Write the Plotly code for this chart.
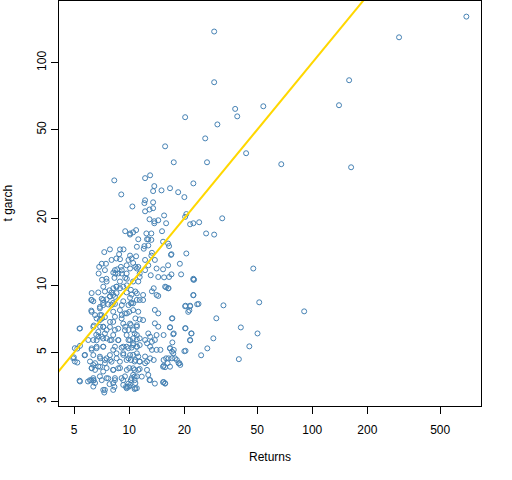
"""Scatter of t-GARCH estimates against returns, log-log with a y = x reference line."""

import plotly.graph_objects as go

# Points (returns, t garch)
returns = [
    29.1, 29.1, 37.9, 38.9, 30.3, 20.2, 26.0, 43.5, 26.6, 15.7, 17.5, 8.28, 9.04, 12.2, 13.0,
    13.7, 13.5, 15.0, 16.7, 18.5, 20.0, 22.4, 10.4, 12.1, 12.2, 13.5, 12.9, 13.5, 12.2, 15.5,
    20.5, 20.2, 12.9, 14.4, 13.7, 13.7, 15.9, 32.2, 24.1, 22.4, 21.5, 9.5, 10.1, 10.1, 10.9,
    12.4, 13.2, 15.1, 26.3, 29.1, 11.2, 12.7,
    695, 298, 159, 140, 54.0, 67.7, 163, 51.3, 90.3, 50.2,
    47.6, 45.3, 39.7, 40.7, 28.8, 26.7, 24.7, 29.9, 32.7, 23.5, 22.4, 22.6, 22.4, 20.5, 19.2,
    21.3, 20.2, 21.5, 20.2, 21.8, 21.5, 20.0, 17.2, 16.7, 17.4, 17.2, 16.7, 17.4, 17.8, 18.8,
    15.9, 15.3, 16.2, 15.3, 15.7, 17.0, 16.3, 15.9, 16.3, 15.5, 17.0, 16.3,
    10.5, 12.5, 13.2, 12.1, 12.0, 12.7, 13.3, 13.2, 15.3, 16.5, 16.9, 10.9, 12.2, 13.8, 12.7,
    14.1, 18.9, 15.3, 14.4, 16.5, 12.2, 13.1, 11.4, 10.3, 10.5, 11.0, 10.1,
    7.3, 7.84, 8.9, 9.3, 8.8, 8.0, 7.07, 6.85, 7.46, 7.36, 8.35, 8.6, 9.0, 8.9, 9.9, 9.1,
    7.5, 8.4, 9.7,
    8.5, 6.8, 7.1, 8.18, 8.3, 8.7, 9.1, 9.67, 10.1, 10.8, 11.0, 11.2, 11.4, 9.67, 9.5, 8.89,
    8.5, 8.18, 7.8,
    6.2, 6.2, 6.4, 5.38, 4.98, 5.2, 5.38, 5.2, 5.7, 5.38, 5.95, 6.2, 6.4, 7.3, 6.91, 6.6,
    7.1, 6.91, 7.2, 10.8, 9.6, 9.8, 8.3, 7.8, 12.9,
    7.21, 7.52, 8.53, 8.9, 9.27, 9.7, 7.07, 7.52, 6.23, 6.23, 7.85, 8.17, 7.21, 8.0, 8.35,
    9.1, 9.9, 6.93, 7.36, 7.85, 8.17, 9.1, 9.7, 5.35, 6.93, 7.21, 7.52, 8.35, 9.5, 9.9,
    5.97, 6.36, 6.78, 7.07, 7.52, 8.0, 8.72, 9.9, 5.04, 6.23, 6.63, 7.21, 8.17, 9.27, 9.9,
    4.94, 5.04, 5.73, 6.1, 6.36, 6.93, 7.36, 7.85, 8.53, 9.27, 9.9, 6.23, 6.5, 6.93, 7.52,
    8.17, 8.9, 9.7, 5.35, 6.1, 6.36, 7.07, 7.68, 8.35, 9.27, 9.9, 7.21, 8.17, 6.36,
    10.5, 11.2, 15.7, 16.4, 22.4, 10.2, 11.0, 11.9, 13.3, 14.1, 14.4, 13.6, 22.4, 11.4, 11.9,
    10.2, 10.5, 20.3, 21.5, 23.9, 21.0, 10.0, 13.8, 14.4, 17.1, 11.4, 11.9, 10.2, 11.0, 13.8,
    14.4, 16.7, 20.3, 21.9, 21.5, 10.7, 12.7, 13.0, 14.1, 15.4, 17.5, 10.5, 11.4, 12.2, 13.3,
    13.8, 10.5, 11.0, 11.4, 12.5, 13.0, 13.3, 14.1, 14.8, 16.7, 17.1, 17.5, 20.3, 10.5, 11.2,
    12.2, 13.0, 13.6, 15.4, 16.4, 17.1, 18.2, 10.2, 10.7, 11.4, 12.2, 12.5, 15.4, 15.7, 16.7,
    18.6, 19.0, 10.0, 10.7, 11.4, 12.5, 10.5, 10.7, 11.7, 12.7, 13.0, 10.2, 10.7, 13.8, 15.4,
    15.7, 10.0, 10.7,
    6.23, 6.77, 7.36, 8.0, 8.52, 7.84, 8.35, 9.67, 10.3, 10.8, 10.1, 11.0, 6.36, 7.2, 7.68,
    8.17, 9.27, 10.3, 6.91, 8.17, 8.89, 9.47, 10.5, 11.2, 6.5, 7.06, 6.63, 8.35, 9.08, 10.8,
    9.27, 10.1, 11.0, 6.36, 7.2, 7.84, 8.7, 9.47, 10.5, 6.77, 7.36, 8.17, 9.67, 11.0, 6.63,
    7.2, 7.84, 8.7, 10.1, 11.0, 10.5,
    6.23, 6.63, 7.2, 8.35, 9.08, 9.67, 10.3, 11.0, 6.36, 6.91, 7.52, 7.84, 8.52, 9.27, 10.1,
    11.0, 6.5, 7.36, 8.0, 8.89, 9.67, 10.8, 11.4, 6.23, 6.77, 7.2, 8.17, 8.7, 10.5, 11.2,
    6.36, 6.91, 7.52, 8.35, 9.08, 9.47, 10.3, 11.0, 6.5, 8.17, 9.27, 10.1, 10.8, 7.36, 9.67,
    11.0,
]
tgarch = [
    138, 81.7, 62.0, 57.4, 52.8, 56.9, 45.7, 39.2, 35.7, 42.1, 35.7, 29.6, 25.6, 30.3, 31.2,
    27.9, 26.5, 26.7, 27.3, 26.2, 24.9, 28.7, 22.6, 23.4, 24.1, 23.6, 21.9, 22.2, 21.5, 20.6,
    20.9, 20.3, 19.8, 19.6, 19.4, 19.0, 19.0, 20.0, 19.2, 19.0, 18.8, 17.5, 17.1, 16.9, 17.7,
    17.1, 17.1, 17.5, 17.1, 16.9, 16.1, 16.1,
    161, 130, 83.4, 64.4, 63.7, 35.0, 33.9, 8.39, 7.64, 6.08,
    11.9, 5.32, 4.66, 6.47, 5.78, 5.21, 4.85, 7.11, 8.13, 8.22, 9.02, 10.6, 10.7, 13.9, 11.2,
    7.72, 8.05, 8.05, 6.41, 6.08, 5.66, 5.06, 7.11, 6.47, 6.03, 5.54, 5.21, 4.95, 4.70, 4.47,
    4.70, 4.31, 4.47, 3.67, 3.63, 13.8, 12.3, 9.8, 9.7, 10.86, 11.2, 15.4,
    17.3, 16.1, 16.0, 15.0, 14.6, 15.1, 14.0, 13.6, 15.7, 15.0, 13.7, 13.5, 13.0, 13.0, 12.3,
    11.9, 12.5, 11.8, 10.9, 10.9, 11.7, 11.1, 10.9, 13.2, 12.6, 11.9, 11.9,
    14.1, 14.5, 14.5, 14.5, 13.8, 13.0, 12.5, 12.1, 12.5, 11.7, 11.7, 11.8, 12.1, 13.1, 13.0,
    11.3, 10.7, 11.3, 10.7,
    13.2, 11.3, 10.6, 11.4, 10.8, 11.3, 11.7, 12.3, 13.6, 12.1, 14.9, 12.1, 11.3, 11.3, 10.8,
    10.4, 9.86, 9.7, 9.5,
    8.6, 7.7, 6.6, 6.4, 4.75, 4.5, 5.35, 5.2, 4.85, 3.7, 3.7, 3.74, 3.74, 3.3, 6.98, 6.0,
    7.1, 8.0, 8.6, 3.45, 3.5, 3.5, 3.5, 3.6, 3.76,
    9.86, 10.4, 9.86, 9.7, 9.86, 10.0, 8.7, 8.65, 8.59, 7.6, 8.9, 9.05, 8.15, 8.15, 8.25,
    8.15, 8.15, 7.35, 7.2, 6.85, 6.85, 7.35, 7.48, 6.4, 6.52, 6.52, 6.3, 6.3, 6.52, 6.3,
    5.68, 5.68, 5.88, 5.88, 5.78, 5.68, 5.68, 5.68, 5.22, 5.13, 5.22, 5.3, 5.13, 5.3, 5.22,
    4.7, 4.55, 4.87, 4.55, 4.39, 4.7, 4.62, 4.62, 4.7, 4.87, 4.7, 4.25, 4.17, 4.31, 4.25,
    4.17, 4.25, 4.17, 3.73, 3.75, 3.75, 3.75, 3.82, 3.75, 3.75, 3.62, 3.39, 3.39, 3.51,
    10.4, 10.4, 9.86, 9.7, 10.6, 9.55, 9.2, 9.05, 9.4, 9.05, 8.96, 9.7, 9.05, 8.59, 8.59,
    8.3, 8.3, 8.1, 8.1, 8.25, 7.6, 7.6, 7.75, 7.48, 7.1, 7.03, 6.98, 6.63, 6.52, 6.75,
    6.52, 6.48, 6.42, 6.08, 5.68, 6.08, 6.08, 5.88, 5.98, 5.98, 6.08, 5.78, 5.78, 5.68, 5.58,
    5.68, 5.39, 5.3, 5.39, 5.49, 5.3, 5.13, 5.13, 5.13, 5.22, 5.04, 5.13, 5.08, 4.87, 4.79,
    4.79, 4.7, 4.62, 4.62, 4.7, 4.7, 4.62, 4.62, 4.55, 4.55, 4.47, 4.55, 4.35, 4.29, 4.31,
    4.47, 4.39, 4.25, 4.17, 4.21, 4.17, 3.96, 3.89, 3.89, 3.96, 3.75, 3.75, 3.75, 3.62, 3.68,
    3.62, 3.51, 3.42,
    9.23, 9.29, 9.38, 9.29, 9.23, 8.93, 8.87, 9.29, 9.08, 9.38, 8.79, 8.6, 8.48, 8.34, 8.2,
    8.34, 8.48, 8.34, 7.88, 7.61, 7.74, 7.48, 7.74, 7.61, 7.35, 7.35, 7.1, 7.22, 7.1, 7.1,
    6.73, 6.73, 6.62, 6.5, 6.5, 6.5, 6.39, 6.29, 6.29, 6.18, 6.08, 5.98, 5.98, 5.98, 5.67,
    5.77, 5.67, 5.67, 5.67, 5.72, 5.48,
    5.21, 5.3, 5.3, 5.3, 5.25, 5.3, 5.25, 5.3, 4.86, 4.78, 4.7, 4.86, 4.95, 4.95, 4.86,
    4.95, 4.47, 4.47, 4.54, 4.54, 4.62, 4.62, 4.54, 4.24, 4.32, 4.1, 4.17, 4.24, 4.24, 4.17,
    3.83, 3.9, 3.83, 3.83, 3.83, 3.9, 3.83, 3.9, 3.64, 3.64, 3.57, 3.57, 3.64, 3.39, 3.45,
    3.45,
]

# Reference line y = x
ref_x = [1, 1000]
ref_y = [v for v in ref_x]

x_ticks = [5, 10, 20, 50, 100, 200, 500]
y_ticks = [3, 5, 10, 20, 50, 100]

text_font = dict(family="Liberation Sans, Arial, sans-serif", size=12, color="black")

fig = go.Figure()

fig.add_trace(go.Scatter(
    x=returns, y=tgarch,
    mode="markers",
    marker=dict(symbol="circle-open", size=5, color="#4682B4", line=dict(width=1, color="#4682B4")),
    showlegend=False,
))

fig.add_trace(go.Scatter(
    x=ref_x, y=ref_y,
    mode="lines",
    line=dict(color="#FFD700", width=2),
    showlegend=False,
))

axis_common = dict(
    type="log",
    showgrid=False,
    zeroline=False,
    showline=True,
    mirror=True,
    linecolor="black",
    linewidth=1,
    ticks="outside",
    ticklen=7,
    tickcolor="black",
    tickfont=text_font,
)

fig.update_layout(
    width=512,
    height=480,
    margin=dict(l=59, r=31, t=1, b=74),
    paper_bgcolor="white",
    plot_bgcolor="white",
    font=text_font,
    xaxis=dict(
        axis_common,
        range=[0.616, 2.922],
        tickvals=x_ticks,
        ticktext=[str(v) for v in x_ticks],
        ticklabelstandoff=6,
    ),
    yaxis=dict(
        axis_common,
        range=[0.458, 2.277],
        tickvals=y_ticks,
        ticktext=[str(v) for v in y_ticks],
        tickangle=-90,
        ticklabelstandoff=0,
    ),
)

# Axis titles
fig.add_annotation(
    x=0.5, y=0, xref="paper", yref="paper",
    text="Returns", showarrow=False, font=text_font,
    yanchor="middle", yshift=-51,
)
fig.add_annotation(
    x=0, y=0.5, xref="paper", yref="paper",
    text="t garch", showarrow=False, font=text_font,
    textangle=-90, xanchor="center", xshift=-52,
)

# drop the page's default body margin so the figure sits at the window corner
fig.write_html(
    "out.html",
    config={"displayModeBar": False},
    post_script="document.body.style.margin = '0';",
)
